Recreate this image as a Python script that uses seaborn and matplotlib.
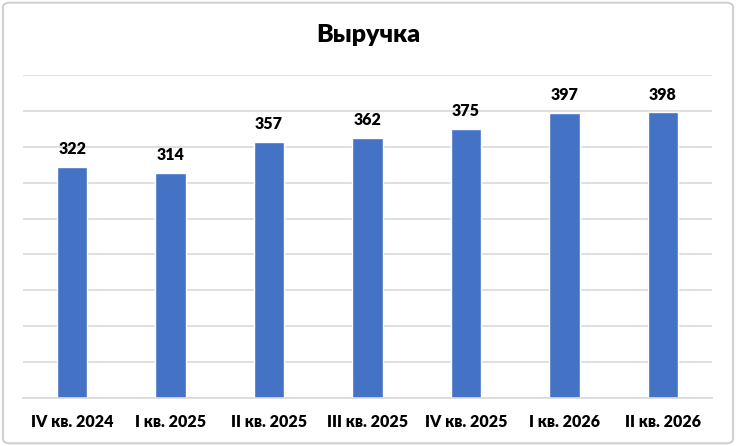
import matplotlib.pyplot as plt
import seaborn as sns
from matplotlib.patches import FancyBboxPatch

quarters = ['IV кв. 2024', 'I кв. 2025', 'II кв. 2025', 'III кв. 2025',
            'IV кв. 2025', 'I кв. 2026', 'II кв. 2026']
revenue = [322, 314, 357, 362, 375, 397, 398]

sns.set_style('white')
plt.rcParams['font.family'] = ['Lato', 'DejaVu Sans']

fig = plt.figure(figsize=(7.36, 4.46), dpi=100)
ax = fig.add_axes([23 / 736, 48 / 446, 689 / 736, 323 / 446])

sns.barplot(x=quarters, y=revenue, color='#4472C4', saturation=1,
            width=0.31, ax=ax)

ax.set_ylim(0, 450)
ax.set_yticks(range(0, 451, 50))
ax.yaxis.grid(True, color='#d9d9d9', linewidth=1.2)
ax.set_axisbelow(True)
ax.tick_params(axis='y', left=False, labelleft=False)
ax.tick_params(axis='x', bottom=False, labelsize=11.5, pad=8,
               labelcolor='black')
for lbl in ax.get_xticklabels():
    lbl.set_fontweight('heavy')
for s in ['top', 'left', 'right']:
    ax.spines[s].set_visible(False)
ax.spines['bottom'].set_color('#d9d9d9')
ax.spines['bottom'].set_linewidth(1.2)

for i, v in enumerate(revenue):
    ax.annotate(str(v), (i, v), xytext=(0, 7), textcoords='offset points',
                ha='center', va='bottom', fontsize=11.5, fontweight='heavy',
                color='black')

fig.text(0.5, 1 - 35 / 446, 'Выручка', ha='center', va='center',
         fontsize=18, fontweight='heavy', color='black')

border = FancyBboxPatch((0.004, 0.006), 0.992, 0.988,
                        boxstyle='round,pad=0,rounding_size=0.01',
                        transform=fig.transFigure, fill=False,
                        edgecolor='#d0d0d0', linewidth=1.5)
fig.patches.append(border)

fig.savefig('out.png', dpi=100)
